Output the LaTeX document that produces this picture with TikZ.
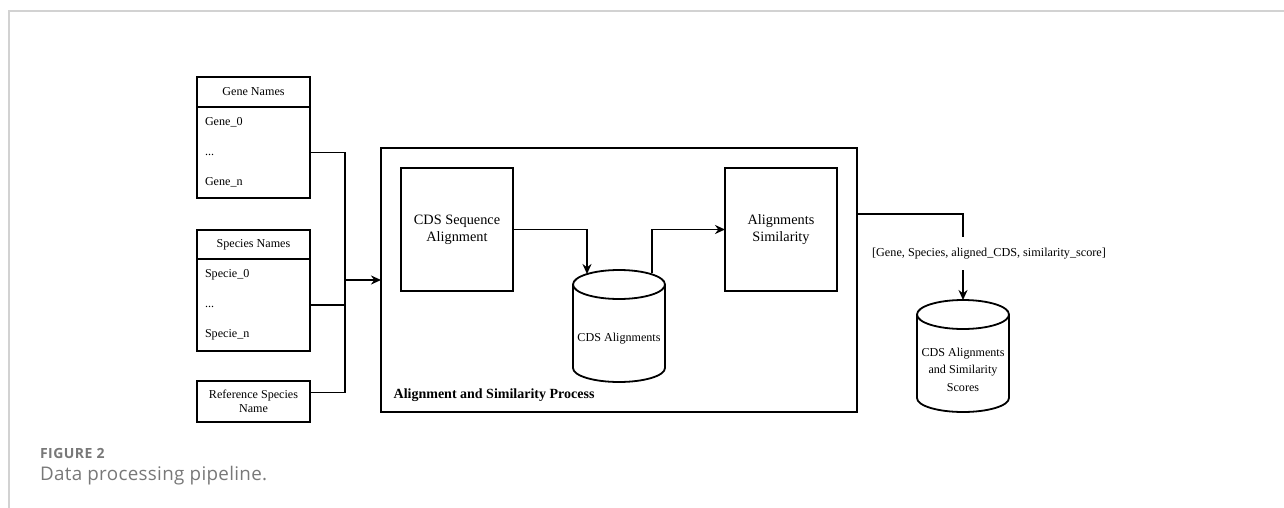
\documentclass[tikz,border=0pt]{standalone}
\usepackage{fontspec}
\setmainfont{Liberation Serif}
\newfontfamily\captionfont[LetterSpace=1.7]{Open Sans}
\newfontfamily\figlabelfont[LetterSpace=3.5]{Open Sans}
\usetikzlibrary{arrows.meta, positioning, shapes, calc}

\definecolor{framegray}{RGB}{210,210,210}
\definecolor{captiongray}{RGB}{120,120,120}

\begin{document}
\begin{tikzpicture}
[
    x=0.5pt, y=-0.5pt,
    line width=0.9pt,
    every node/.style={outer sep=0pt},
    box/.style={
        draw,
        rectangle,
        minimum width=56pt,
        minimum height=61.5pt,
        align=center,
        font=\fontsize{7.15}{8.5}\selectfont
    },
    namehead/.style={draw, rectangle, minimum width=56.5pt, font=\fontsize{6.05}{7.5}\selectfont},
    namelist/.style={draw, rectangle, align=left, inner xsep=4pt, text width=48.5pt, font=\fontsize{6.05}{15}\selectfont},
    db/.style={rectangle, inner sep=0pt, minimum width=46pt, minimum height=56pt},
    dbtext/.style={align=center, inner sep=0pt, font=\fontsize{6.05}{8.75}\selectfont},
    arrow/.style={-{Stealth[length=5pt, width=4.5pt]}}
]
\useasboundingbox (0,0) rectangle (1284,508);

% Define the input nodes
\node[namehead, minimum height=15pt] (geneHead) at (253.5,92) {Gene Names};
\node[namelist, minimum height=45.5pt, below=0pt of geneHead] (geneList) {Gene\_0\\...\\Gene\_n};
\node[namehead, minimum height=14.5pt, below=16pt of geneList] (speciesHead) {Species Names};
\node[namelist, minimum height=46pt, below=0pt of speciesHead] (speciesList) {Specie\_0\\...\\Specie\_n};
\node[namehead, minimum height=20.5pt, align=center, font=\fontsize{6.05}{7}\selectfont, below=15pt of speciesList] (refName) {Reference Species\\Name};

% Process container and its steps
\node[draw, minimum width=238pt, minimum height=132pt] (proc) at (619,280) {};
\node[box, below right=10pt and 10pt of proc.north west] (seqAlign) {CDS Sequence\\Alignment};
\node[box, below left=10pt and 10pt of proc.north east] (simAlign) {Alignments\\Similarity};
\node[db, above=15pt of proc.south] (cdsDb) {};
\node[dbtext] (cdsDbText) at ([yshift=-6.5pt]cdsDb.center) {CDS Alignments};
\node[anchor=base west, font=\bfseries\fontsize{7}{8.5}\selectfont] (procLabel) at ($(proc.south west)+(6,-14)$) {Alignment and Similarity Process};

% Output store
\node[db, anchor=south] (outDb) at (963,412) {};
\node[dbtext] (outDbText) at ([yshift=-6.75pt]outDb.center) {CDS Alignments\\and Similarity\\Scores};
\node[inner sep=0pt, minimum height=16.5pt, font=\fontsize{6.1}{7}\selectfont] (outLabel) at (989,253.5) {[Gene, Species, aligned\_CDS, similarity\_score]};

% Cylinder outlines of the two stores
\foreach \store in {cdsDb, outDb} {
    \draw ([yshift=-7.25pt]\store.north west) -- ([yshift=7pt]\store.south west)
          arc[start angle=180, end angle=360, x radius=23pt, y radius=7pt]
          -- ([yshift=-7.25pt]\store.north east)
          arc[start angle=0, end angle=360, x radius=23pt, y radius=7.25pt];
}

% Inputs merged into the process
\coordinate[left=18pt of proc.west] (merge);
\draw (geneList.east) -| (merge);
\draw (speciesList.east) -| (merge);
\draw ([yshift=4.5pt]refName.east) -| (merge);
\draw[arrow] (merge) -- (proc.west);

% Steps inside the process
\draw[arrow] (seqAlign.east) -| ($(cdsDb.north)+(-32,4)$);
\draw[arrow] ($(cdsDb.north)+(33,3)$) |- (simAlign.west);

% Process to output store
\draw ([yshift=33pt]proc.east) -| (outDb.north |- outLabel.north);
\draw[arrow] (outDb.north |- outLabel.south) -- (outDb.north);

% Frame and caption
\draw[framegray, line width=0.75pt] (9,508) -- (9,11) -- (1284,11);
\node[anchor=base west, inner sep=0pt, text=captiongray, font=\figlabelfont\bfseries\fontsize{7}{9}\selectfont] (figNum) at (40,458) {FIGURE 2};
\node[anchor=base west, inner sep=0pt, text=captiongray, font=\captionfont\fontsize{9.4}{11}\selectfont] (figCaption) at (40,480) {Data processing pipeline.};

\end{tikzpicture}
\end{document}
